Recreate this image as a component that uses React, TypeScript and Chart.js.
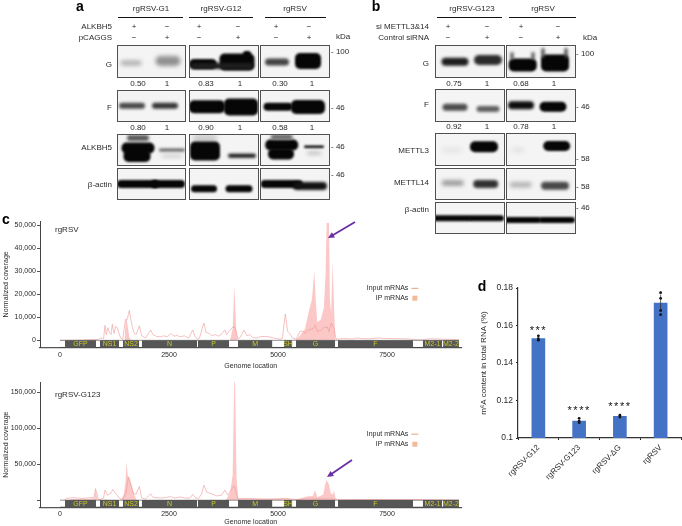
import React, { useEffect, useRef } from "react";
import { Chart, registerables } from "chart.js";
Chart.register(...registerables);

const FONT = '"Liberation Sans", Arial, sans-serif';
Chart.defaults.font.family = FONT;
Chart.defaults.color = "#2a2a2a";

// ---------- panel c data ----------
const geneNames = ["GFP", "NS1", "NS2", "N", "P", "M", "SH", "G", "F", "M2-1", "M2-2"];
const geneStarts = [115, 917, 1445, 1880, 3165, 4083, 5138, 5413, 6376, 8325, 8784];
const geneEnds = [825, 1353, 1812, 3142, 3876, 4866, 5321, 6308, 8096, 8761, 9151];
const genomeTicks = [0, 2500, 5000, 7500];
const c1YTicks = [0, 10000, 20000, 30000, 40000, 50000];
const c2YTicks = [0, 50000, 100000, 150000];

const c1InputX = [0,500,765,880,917,1000,1032,1060,1100,1131,1170,1200,1240,1275,1315,1345,1391,1440,1500,1540,1590,1620,1659,1700,1750,1820,1873,1960,2080,2130,2200,2294,2380,2460,2540,2620,2680,2752,2850,2950,3043,3096,3150,3200,3260,3303,3350,3420,3479,3560,3640,3708,3780,3823,3880,3950,3998,4040,4080,4140,4220,4290,4350,4420,4500,4600,4700,4800,4900,5050,5100,5168,5220,5275,5330,5420,5500,5560,5620,5700,5800,5860,5900,5980,6050,6130,6170,6220,6290,6330,6500,6700,6800,6950,7100,7300,7500,7800,8000,8130,8300,8500,8800,9150];
const c1InputY = [0,100,400,300,1000,800,6500,2500,5500,3500,2500,7000,3000,6000,5500,3500,1000,500,9000,9000,13000,9500,6000,3000,2500,6300,2000,1000,4500,2500,1800,1500,2000,1500,3000,1800,2200,1500,2000,1000,4500,1800,500,1000,5000,7500,3500,3000,2000,2500,1800,2800,4500,2500,4000,5500,6000,4000,500,1500,4500,2000,2500,1200,1000,1600,1700,1500,1000,500,800,11400,4000,2800,1000,500,3800,4000,3200,4500,5000,6500,4000,4200,5500,5800,3800,7500,5000,500,800,600,1000,700,700,1000,800,700,600,300,200,700,500,300];
const c1IpX = [1480,1510,1530,1560,1590,1630,3900,3960,3998,4040,4070,5400,5500,5620,5700,5780,5833,5870,5900,5980,6050,6090,6116,6170,6190,6220,6254,6290,6315];
const c1IpY = [0,9500,9000,5000,1500,0,0,5000,24000,5000,0,0,2000,5000,12000,18000,30000,16000,8000,9000,14000,28000,51000,51000,18000,12000,34000,12000,0];

const c2InputX = [100,150,300,500,700,780,815,850,880,917,1000,1032,1090,1170,1210,1280,1361,1400,1450,1514,1567,1621,1680,1740,1820,1873,1960,2080,2130,2294,2408,2523,2638,2752,2867,2982,3043,3096,3173,3249,3303,3364,3479,3593,3708,3780,3850,3930,3998,4050,4080,4300,4800,5168,5400,5800,6300,6500,7500,9150];
const c2InputY = [500,2500,3500,2500,3500,4000,16000,8000,1000,800,3000,14000,7000,10000,15000,9000,3000,1000,2000,10000,32000,22000,10000,8000,19000,3000,1500,9000,4000,3000,3500,5000,3000,4500,3000,3000,8000,4000,2000,9000,21000,11000,9000,6000,7000,14000,7000,15000,20000,8000,2000,2500,1500,2500,1000,2000,1500,1000,1000,500];
const c2IpX = [120,300,700,790,815,860,1400,1460,1500,1530,1550,1600,1640,1680,1720,1760,3800,3900,3960,3996,4014,4050,4090,4500,5200,5400,5657,5800,5848,5902,6040,6080,6116,6170,6210,6260,6284,6330,6800,7500,9150];
const c2IpY = [0,1500,2000,3000,14000,1000,0,8000,25000,53500,35000,30000,22000,12000,5000,0,0,10000,35000,165000,165000,30000,2000,1500,2000,500,5000,6000,14000,4000,8000,22000,28000,22000,10000,8000,14000,0,500,800,300];

// ---------- panel d data ----------
const dCategories = ["rgRSV-G12", "rgRSV-G123", "rgRSV-ΔG", "rgRSV"];
const dValues = [0.153, 0.109, 0.1115, 0.172];
const dErrors = [0.0008, 0.0008, 0.0005, 0.0045];
const dStars = ["***", "****", "****", ""];
const dDotCats = ["rgRSV-G12","rgRSV-G12","rgRSV-G12","rgRSV-G123","rgRSV-G123","rgRSV-G123","rgRSV-ΔG","rgRSV-ΔG","rgRSV","rgRSV","rgRSV","rgRSV"];
const dDotVals = [0.1545,0.153,0.1522,0.1105,0.109,0.1082,0.1122,0.1112,0.1775,0.1745,0.168,0.1658];
const dYTicks = [0.1, 0.12, 0.14, 0.16, 0.18];
const starLift = [8, 10, 9, 0];

// ---------- blot band intensities (0 = none, 1 = saturated) ----------
const aG = [0.3, 0.42, 1, 1, 0.9, 1, 0.75, 1];
const aF = [0.72, 0.8, 1, 1, 1, 1];
const aALK = [0.65, 1, 1, 0.75, 0.35, 0.2, 1, 0.95, 0.5, 1, 1, 1, 0.6];
const aActin = [1, 1, 1, 1, 1, 0.95];
const bG = [0.9, 0.85, 1, 1, 0.7, 0.7, 0.75, 0.75];
const bF = [0.7, 0.62, 0.97, 1];
const bM3 = [0.08, 1, 0.12, 1];
const bM14 = [0.42, 0.82, 0.3, 0.72];
const bActin = [1, 1, 1, 1];

// ---------- blot layout (pixels of the figure) ----------
const AP = [[117, 185], [189, 258], [260, 329]];
const BP = [[435, 504], [506, 575]];
const lay = (xs: number[][], rows: number[][]) => rows.flatMap((r) => xs.map((x) => [x[0], r[0], x[1], r[1]]));
const frames = [
  ...lay(AP, [[45, 77], [90, 121], [134, 165], [168, 199]]),
  ...lay(BP, [[45, 77], [89, 121], [133, 165], [168, 199], [202, 233]]),
];
const geom: [number[], number[][]][] = [
  [aG, [[131, 63, 21, 5], [168, 61, 25, 10], [203, 64, 28, 10], [237, 62, 35, 17], [222, 66, 62, 6], [247, 54, 8, 6], [277, 62, 24, 7], [308, 61, 26, 16]]],
  [aF, [[132, 105.7, 26, 6], [165, 105.7, 26, 6], [207, 106.7, 36, 13], [241, 107, 34, 17], [278, 106.7, 29, 8], [308, 107, 34, 14]]],
  [aALK, [[138, 138, 22, 6], [138, 148, 33, 11], [137, 156, 27, 12], [172, 150, 26, 2.5], [172, 156, 20, 1.5], [205, 138, 24, 6], [205, 151, 30, 19], [242, 155.7, 28, 4], [314, 153.3, 14, 1.5], [281.7, 145, 33, 11], [281, 154, 26, 11], [314, 146.7, 20, 2.5], [281.7, 137, 22, 5]]],
  [aActin, [[138, 184, 42, 8], [168, 184, 34, 8], [204, 188.7, 26, 7], [239, 188.7, 27, 7], [281.7, 184, 42, 8], [310, 186, 34, 8]]],
  [bG, [[455, 61.7, 27, 8], [488, 60, 28, 10], [522.7, 65, 28, 13], [555, 63, 28, 17], [512, 56, 3, 8], [533, 56, 3, 8], [543, 53, 3, 10], [566, 53, 3, 10]]],
  [bF, [[455, 107.3, 25, 7], [488, 109, 23, 6], [521, 105.3, 26, 8], [553, 106.7, 27, 10]]],
  [bM3, [[451.7, 150, 20, 4], [484, 146.7, 28, 11], [518, 150, 12, 3], [556.7, 146, 27, 10]]],
  [bM14, [[452.7, 183, 22, 5], [485.7, 184, 25, 8], [520.7, 184.7, 22, 5], [555, 185.7, 28, 8]]],
  [bActin, [[451.7, 218.3, 38, 6], [486, 218.3, 36, 6], [522, 220, 38, 6], [557, 220, 36, 6]]],
];

type T = { t: string; x: number; y: number; a?: CanvasTextAlign; s?: number; b?: boolean };
const texts: T[] = [
  { t: "a", x: 80, y: 7, s: 14, b: true, a: "center" }, { t: "b", x: 376, y: 7, s: 14, b: true, a: "center" },
  { t: "c", x: 6, y: 220, s: 14, b: true, a: "center" }, { t: "d", x: 482, y: 287, s: 14, b: true, a: "center" },
];
const centre = (t: string, x: number, y: number) => texts.push({ t, x, y, a: "center" });
const right = (t: string, x: number, y: number) => texts.push({ t, x, y, a: "right" });
const left = (t: string, x: number, y: number) => texts.push({ t, x, y, a: "left" });
["rgRSV-G1", "rgRSV-G12", "rgRSV"].forEach((t, i) => centre(t, [151, 221, 295][i], 9));
["rgRSV-G123", "rgRSV"].forEach((t, i) => centre(t, [472, 543][i], 9));
right("ALKBH5", 112, 27); right("pCAGGS", 112, 38);
right("G", 112, 65); right("F", 112, 108); right("ALKBH5", 112, 148); right("β-actin", 112, 185);
right("si METTL3&14", 429, 27); right("Control siRNA", 429, 38);
right("G", 429, 64); right("F", 429, 105); right("METTL3", 429, 151); right("METTL14", 429, 183); right("β-actin", 429, 210);
[134, 199, 276, 448, 521].forEach((x) => { centre("+", x, 27); centre("−", x, 38); });
[167, 238, 309, 487, 558].forEach((x) => { centre("−", x, 27); centre("+", x, 38); });
[["0.50", 138], ["1", 167], ["0.83", 206], ["1", 240], ["0.30", 280], ["1", 312], ["0.75", 454], ["1", 487], ["0.68", 521], ["1", 554]].forEach(([t, x]) => centre(t as string, x as number, 84));
[["0.80", 138, 127.5], ["1", 167, 127.5], ["0.90", 206, 127.5], ["1", 240, 127.5], ["0.58", 280, 127.5], ["1", 312, 127.5], ["0.92", 454, 126.5], ["1", 487, 126.5], ["0.78", 521, 126.5], ["1", 554, 126.5]].forEach(([t, x, y]) => centre(t as string, x as number, y as number));
left("kDa", 336, 37); left("kDa", 583, 38);
[["- 100", 331, 52], ["- 46", 331, 108], ["- 46", 331, 147], ["- 46", 331, 175], ["- 100", 576, 54], ["- 46", 576, 107], ["- 58", 576, 159], ["- 58", 576, 187], ["- 46", 576, 208]].forEach(([t, x, y]) => left(t as string, x as number, y as number));
const rules = [[118, 183], [189, 253], [265, 326], [437, 502], [509, 576]];

const blotPlugin = {
  id: "blots",
  afterDatasetsDraw(chart: any) {
    const { ctx, scales } = chart;
    const X = (v: number) => scales.x.getPixelForValue(v);
    const Y = (v: number) => scales.y.getPixelForValue(v);
    ctx.save();
    frames.forEach((f) => {
      ctx.fillStyle = "#f4f4f4";
      ctx.fillRect(X(f[0]), Y(f[1]), X(f[2]) - X(f[0]), Y(f[3]) - Y(f[1]));
    });
    chart.data.datasets.forEach((ds: any) => {
      ds.data.forEach((b: any) => {
        const fr = frames.find((f) => b.x >= f[0] && b.x <= f[2] && b.y >= f[1] && b.y <= f[3]);
        ctx.save();
        if (fr) { ctx.beginPath(); ctx.rect(X(fr[0]), Y(fr[1]), X(fr[2]) - X(fr[0]), Y(fr[3]) - Y(fr[1])); ctx.clip(); }
        const g = Math.round(244 - 238 * b.dark);
        ctx.fillStyle = `rgb(${g},${g},${g})`;
        ctx.filter = `blur(${1.3 + (1 - b.dark) * 1.4}px)`;
        ctx.beginPath();
        ctx.roundRect(X(b.x - b.w / 2), Y(b.y - b.h / 2), X(b.w) - X(0), Y(b.h) - Y(0), Math.min(b.h / 2, 5));
        ctx.fill();
        ctx.restore();
      });
    });
    ctx.strokeStyle = "#505050";
    ctx.lineWidth = 1;
    frames.forEach((f) => ctx.strokeRect(X(f[0]) + 0.5, Y(f[1]) + 0.5, X(f[2]) - X(f[0]), Y(f[3]) - Y(f[1])));
    ctx.strokeStyle = "#111";
    ctx.lineWidth = 1.2;
    rules.forEach((r) => { ctx.beginPath(); ctx.moveTo(X(r[0]), Y(17.5)); ctx.lineTo(X(r[1]), Y(17.5)); ctx.stroke(); });
    ctx.textBaseline = "middle";
    texts.forEach((t) => {
      ctx.font = `${t.b ? "bold " : ""}${t.s || 8}px ${FONT}`;
      ctx.fillStyle = t.b ? "#000" : "#2a2a2a";
      ctx.textAlign = t.a || "left";
      ctx.fillText(t.t, X(t.x), Y(t.y));
    });
    ctx.restore();
  },
};

const arrow = (ctx: any, x0: number, y0: number, x1: number, y1: number) => {
  const a = Math.atan2(y1 - y0, x1 - x0);
  ctx.strokeStyle = ctx.fillStyle = "#6a2fa5";
  ctx.lineWidth = 1.8;
  ctx.beginPath();
  ctx.moveTo(x0, y0);
  ctx.lineTo(x1 - 4 * Math.cos(a), y1 - 4 * Math.sin(a));
  ctx.stroke();
  ctx.beginPath();
  ctx.moveTo(x1, y1);
  ctx.lineTo(x1 - 7 * Math.cos(a - 0.45), y1 - 7 * Math.sin(a - 0.45));
  ctx.lineTo(x1 - 7 * Math.cos(a + 0.45), y1 - 7 * Math.sin(a + 0.45));
  ctx.closePath();
  ctx.fill();
};

const zip = (xs: number[], ys: number[]) => xs.map((x, i) => ({ x, y: ys[i] }));

function coverageConfig(o: any) {
  const geneSeg = geneStarts.flatMap((s, i) => [{ x: s, y: o.blockY }, { x: geneEnds[i], y: o.blockY }, { x: geneEnds[i], y: NaN }]);
  const rail = (y: number) => [{ x: 0, y }, { x: 9150, y }];
  return {
    type: "scatter",
    data: {
      datasets: [
        { data: geneSeg, showLine: true, borderColor: "#565656", borderWidth: 7.6, borderCapStyle: "butt", pointRadius: 0, spanGaps: false, order: 1, clip: false },
        { data: rail(o.railTop), showLine: true, borderColor: "#666", borderWidth: 0.7, pointRadius: 0, order: 2, clip: false },
        { data: rail(o.railBot), showLine: true, borderColor: "#444", borderWidth: 0.9, pointRadius: 0, order: 2, clip: false },
        { data: zip(o.inX, o.inY), showLine: true, borderColor: "rgba(240,150,150,0.85)", borderWidth: 0.7, pointRadius: 0, order: 3 },
        { data: zip(o.ipX, o.ipY), showLine: true, borderWidth: 0, borderColor: "transparent", backgroundColor: "rgba(250,180,180,0.75)", fill: "origin", pointRadius: 0, order: 4 },
      ],
    },
    options: {
      animation: false, responsive: false,
      layout: { padding: { left: 2, right: 8.5, top: o.padTop, bottom: 0 } },
      plugins: { legend: { display: false }, tooltip: { enabled: false } },
      scales: {
        x: {
          type: "linear", min: -459, max: 9209,
          afterBuildTicks: (s: any) => { s.ticks = genomeTicks.map((value) => ({ value })); },
          afterFit: (s: any) => { s.height = o.xH; },
          grid: { drawOnChartArea: false, drawTicks: false }, border: { color: "#555", width: 1.3 },
          ticks: { font: { size: 7 }, padding: 3, maxRotation: 0, callback: (v: number) => String(v) },
          title: { display: true, text: "Genome location", font: { size: 7 }, padding: { top: 2, bottom: 0 } },
        },
        y: {
          min: o.yMin, max: o.yMax,
          afterBuildTicks: (s: any) => { s.ticks = o.yTicks.map((value: number) => ({ value })); },
          afterFit: (s: any) => { s.width = 38; },
          grid: { drawOnChartArea: false, tickLength: 3, color: "#555" }, border: { color: "#444", width: 1 },
          ticks: { font: { size: 7 }, padding: 1, callback: (v: number) => (v === 0 && !o.showZero ? "" : v.toLocaleString("en-US")) },
          title: { display: true, text: "Normalized coverage", font: { size: 7 }, padding: 0 },
        },
      },
    },
    plugins: [{
      id: "genes",
      afterDatasetsDraw(chart: any) {
        const { ctx, scales: { x, y } } = chart;
        ctx.save();
        ctx.textAlign = "center"; ctx.textBaseline = "middle";
        ctx.font = `7px ${FONT}`; ctx.fillStyle = "#c9c82f";
        geneNames.forEach((n, i) => ctx.fillText(n, x.getPixelForValue((geneStarts[i] + geneEnds[i]) / 2), y.getPixelForValue(o.blockY)));
        ctx.fillStyle = "#2a2a2a";
        ctx.textAlign = "left"; ctx.font = `8px ${FONT}`;
        ctx.fillText(o.name, x.getPixelForValue(-115), o.nameY - chart.canvas.offsetTop);
        ctx.font = `7px ${FONT}`; ctx.textAlign = "right";
        const lx = x.getPixelForValue(7990);
        ctx.fillText("Input mRNAs", lx, y.getPixelForValue(o.leg1));
        ctx.fillText("IP mRNAs", lx, y.getPixelForValue(o.leg2));
        ctx.strokeStyle = "#e9a17e"; ctx.lineWidth = 1;
        ctx.beginPath(); ctx.moveTo(lx + 3, y.getPixelForValue(o.leg1)); ctx.lineTo(lx + 10, y.getPixelForValue(o.leg1)); ctx.stroke();
        ctx.fillStyle = "#f3b998";
        ctx.fillRect(lx + 4, y.getPixelForValue(o.leg2) - 2.5, 5, 5);
        arrow(ctx, x.getPixelForValue(o.arrow[0]), y.getPixelForValue(o.arrow[1]), x.getPixelForValue(o.arrow[2]), y.getPixelForValue(o.arrow[3]));
        ctx.restore();
      },
    }],
  };
}

const c1Cfg = coverageConfig({
  inX: c1InputX, inY: c1InputY, ipX: c1IpX, ipY: c1IpY, yMin: -3200, yMax: 51870, yTicks: c1YTicks, showZero: true,
  blockY: -1600, railTop: 0, railBot: -3100, padTop: 6, xH: 22.3, name: "rgRSV", nameY: 230,
  leg1: 22600, leg2: 18300, arrow: [6766, 51400, 6147, 44500],
});
const c2Cfg = coverageConfig({
  inX: c2InputX, inY: c2InputY, ipX: c2IpX, ipY: c2IpY, yMin: -9900, yMax: 164700, yTicks: c2YTicks, showZero: false,
  blockY: -5170, railTop: 0, railBot: -9800, padTop: 7, xH: 18.7, name: "rgRSV-G123", nameY: 395,
  leg1: 92000, leg2: 78000, arrow: [6697, 55900, 6124, 32400],
});

const dCfg: any = {
  type: "bar",
  data: {
    labels: dCategories,
    datasets: [
      { type: "line", data: dDotCats.map((x, i) => ({ x, y: dDotVals[i] })), showLine: false, pointRadius: 1.4, pointBackgroundColor: "#111", pointBorderWidth: 0, order: 1 },
      { data: dValues, backgroundColor: "#4472c4", barThickness: 13, order: 2 },
    ],
  },
  options: {
    animation: false, responsive: false,
    layout: { autoPadding: false, padding: { left: 19, right: 1, top: 18, bottom: 0 } },
    plugins: { legend: { display: false }, tooltip: { enabled: false } },
    scales: {
      x: {
        afterFit: (s: any) => { s.height = 88; },
        grid: { drawOnChartArea: false, tickLength: 2, color: "#222" }, border: { color: "#333", width: 1.2 },
        ticks: { font: { size: 8 }, minRotation: 45, maxRotation: 45, padding: 3 },
      },
      y: {
        min: 0.1, max: 0.18,
        afterBuildTicks: (s: any) => { s.ticks = dYTicks.map((value) => ({ value })); },
        afterFit: (s: any) => { s.width = 39; },
        grid: { drawOnChartArea: false, tickLength: 2, color: "#222" }, border: { color: "#333", width: 1.2 },
        ticks: { font: { size: 8.5 }, padding: 3, callback: (v: number) => String(+v.toFixed(2)) },
        title: { display: true, text: "m⁶A content in total RNA (%)", font: { size: 8 }, padding: 0 },
      },
    },
  },
  plugins: [{
    id: "marks",
    afterDatasetsDraw(chart: any) {
      const { ctx, scales: { x, y } } = chart;
      ctx.save();
      ctx.strokeStyle = "#222"; ctx.lineWidth = 0.7;
      dCategories.forEach((c, i) => {
        const px = x.getPixelForValue(i);
        ctx.beginPath(); ctx.moveTo(px, y.getPixelForValue(dValues[i] - dErrors[i])); ctx.lineTo(px, y.getPixelForValue(dValues[i] + dErrors[i])); ctx.stroke();
        if (dStars[i]) {
          ctx.font = `11px ${FONT}`; ctx.fillStyle = "#111"; ctx.textAlign = "center"; ctx.textBaseline = "middle";
          ctx.letterSpacing = "1.5px";
          ctx.fillText(dStars[i], px, y.getPixelForValue(dValues[i]) - starLift[i]);
        }
      });
      ctx.restore();
    },
  }],
};

const blotCfg: any = {
  type: "scatter",
  data: {
    datasets: geom.map(([dark, g]) => ({
      data: g.map((b, i) => ({ x: b[0], y: b[1], w: b[2], h: b[3], dark: dark[i] })),
      pointRadius: 0,
    })),
  },
  options: {
    animation: false, responsive: false,
    layout: { padding: 0, autoPadding: false },
    plugins: { legend: { display: false }, tooltip: { enabled: false } },
    scales: {
      x: { type: "linear", min: 0, max: 682, display: false },
      y: { type: "linear", min: 0, max: 526, reverse: true, display: false },
    },
  },
  plugins: [blotPlugin],
};

function Panel({ cfg, x, y, w, h }: any) {
  const ref = useRef<HTMLCanvasElement>(null);
  useEffect(() => {
    const c = new Chart(ref.current as any, cfg);
    return () => c.destroy();
  }, []);
  return <canvas ref={ref} width={w} height={h} style={{ position: "absolute", left: x, top: y, width: w, height: h, filter: "blur(0.35px)" }} />;
}

export default function App() {
  return (
    <div style={{ position: "absolute", left: 0, top: 0, width: 682, height: 526, overflow: "hidden", background: "#fff" }}>
      <Panel cfg={c1Cfg} x={0} y={215} w={470} h={155} />
      <Panel cfg={c2Cfg} x={0} y={375} w={470} h={151} />
      <Panel cfg={dCfg} x={460} y={270} w={222} h={256} />
      <Panel cfg={blotCfg} x={0} y={0} w={682} h={526} />
    </div>
  );
}
